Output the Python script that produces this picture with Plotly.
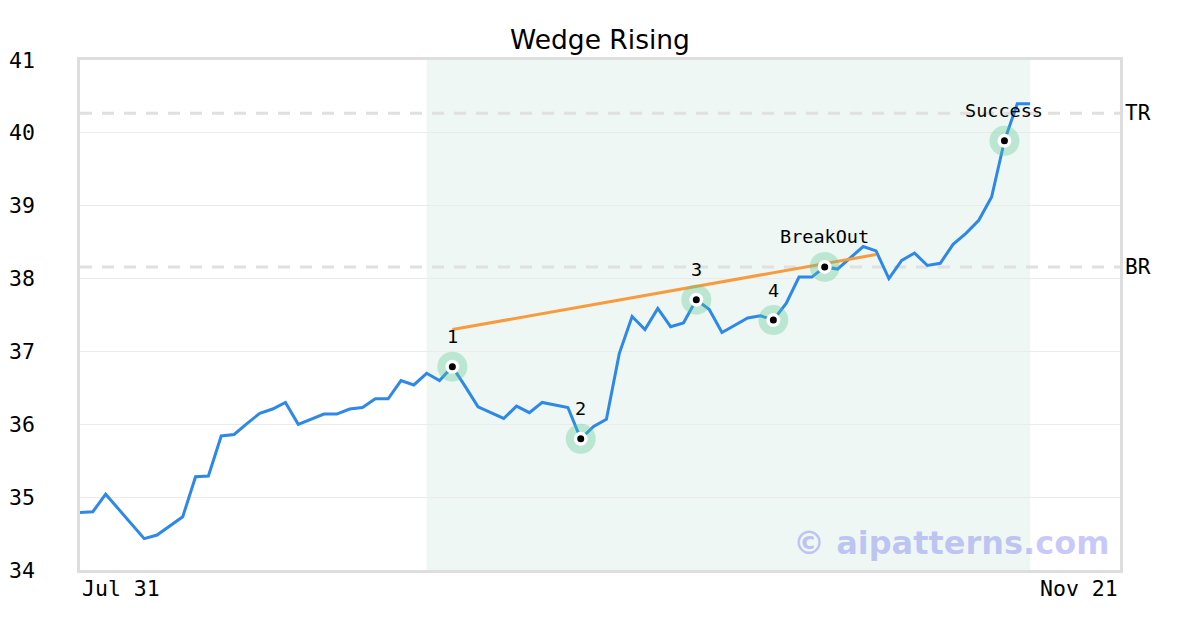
import plotly.graph_objects as go

# ---- data ----
prices = [34.79, 34.80, 35.04, 34.84, 34.63, 34.43, 34.48, 34.61, 34.73, 35.28,
          35.29, 35.84, 35.86, 36.01, 36.15, 36.21, 36.30, 36.00, 36.07, 36.14,
          36.14, 36.21, 36.23, 36.35, 36.35, 36.60, 36.54, 36.70, 36.60, 36.79,
          36.52, 36.24, 36.16, 36.08, 36.25, 36.16, 36.30, 36.27, 36.23, 35.80,
          35.97, 36.07, 36.97, 37.48, 37.30, 37.59, 37.34, 37.39, 37.71, 37.58,
          37.26, 37.36, 37.46, 37.49, 37.43, 37.66, 38.02, 38.02, 38.16, 38.13,
          38.28, 38.44, 38.38, 38.00, 38.25, 38.35, 38.18, 38.21, 38.47, 38.62,
          38.80, 39.12, 39.89, 40.40, 40.40]
day_index = list(range(len(prices)))
axis_days = 81
tick_labels = ["Jul 31", "Nov 21"]
y_ticks = [34, 35, 36, 37, 38, 39, 40, 41]

event_idx = [29, 39, 48, 54, 58, 72]
event_labels = ["1", "2", "3", "4", "BreakOut", "Success"]
event_vals = [prices[i] for i in event_idx]

trend_x = [29, 62]
trend_y = [37.30, 38.33]

level_names = ["TR", "BR"]
level_vals = [40.27, 38.16]

pattern_span = [27, 74]

MONO = "DejaVu Sans Mono"

fig = go.Figure()

fig.add_trace(go.Scatter(x=day_index, y=prices, mode="lines",
                         line=dict(color="#2e88e8", width=3), hoverinfo="skip"))
fig.add_trace(go.Scatter(x=trend_x, y=trend_y, mode="lines",
                         line=dict(color="#f89b3e", width=3), hoverinfo="skip"))
fig.add_trace(go.Scatter(x=event_idx, y=event_vals, mode="markers",
                         marker=dict(size=30, color="rgba(80,200,140,0.32)"), hoverinfo="skip"))
fig.add_trace(go.Scatter(x=event_idx, y=event_vals, mode="markers",
                         marker=dict(size=14, color="white"), hoverinfo="skip"))
fig.add_trace(go.Scatter(x=event_idx, y=event_vals, mode="markers",
                         marker=dict(size=7, color="black"), hoverinfo="skip"))

# shaded pattern region
fig.add_shape(type="rect", xref="x", yref="paper", x0=pattern_span[0], x1=pattern_span[1],
              y0=0, y1=1, fillcolor="#eef7f3", line=dict(width=0), layer="below")

# level lines
for name, v in zip(level_names, level_vals):
    fig.add_shape(type="line", xref="paper", yref="y", x0=0, x1=1, y0=v, y1=v,
                  line=dict(color="#e0e0e0", width=3, dash="12px,10px"), layer="below")
    fig.add_annotation(xref="paper", yref="y", x=1, y=v, text=name, showarrow=False,
                       xanchor="left", yanchor="middle", xshift=3,
                       font=dict(family=MONO, size=21, color="black"))

# event labels
for i, lab, v in zip(event_idx, event_labels, event_vals):
    fig.add_annotation(x=i, y=v, text=lab, showarrow=False, yshift=30,
                       xanchor="center", yanchor="middle",
                       font=dict(family=MONO, size=18.5, color="black"))

# y tick labels (left aligned near the page edge)
for t in y_ticks:
    fig.add_annotation(xref="paper", yref="y", x=0, y=t, text=str(t), showarrow=False,
                       xanchor="left", yanchor="middle", xshift=-73,
                       font=dict(family=MONO, size=21.5, color="black"))

# x tick labels
fig.add_annotation(xref="paper", yref="paper", x=0, y=0, text=tick_labels[0], showarrow=False,
                   xanchor="left", yanchor="middle", yshift=-18,
                   font=dict(family=MONO, size=21.5, color="black"))
fig.add_annotation(xref="paper", yref="paper", x=1, y=0, text=tick_labels[1], showarrow=False,
                   xanchor="right", yanchor="middle", yshift=-18,
                   font=dict(family=MONO, size=21.5, color="black"))

# watermark
fig.add_annotation(xref="paper", yref="paper", x=0.992, y=0.053, text="© aipatterns.com",
                   showarrow=False, xanchor="right", yanchor="middle",
                   font=dict(family="DejaVu Sans", size=32, color="rgba(100,100,240,0.35)",
                             weight="bold"))

fig.update_layout(
    width=1200, height=630,
    margin=dict(l=72, r=88, t=52, b=68, autoexpand=False),
    paper_bgcolor="white", plot_bgcolor="white",
    showlegend=False,
    title=dict(text="Wedge Rising", xref="paper", x=0.5, xanchor="center",
               y=1 - 32 / 630, yanchor="middle",
               font=dict(family="DejaVu Sans", size=26.5, color="black")),
)
fig.update_xaxes(range=[0, axis_days], showgrid=False, zeroline=False, showticklabels=False,
                 showline=True, mirror=True, linecolor="#dedede", linewidth=3, fixedrange=True,
                 automargin=False)
fig.update_yaxes(range=[34, 41], tickvals=y_ticks, showgrid=True, gridcolor="#ebebeb",
                 gridwidth=1, zeroline=False, showline=True, mirror=True, linecolor="#dedede",
                 linewidth=3, showticklabels=False, ticks="", fixedrange=True, automargin=False)

fig.write_html("out.html")
